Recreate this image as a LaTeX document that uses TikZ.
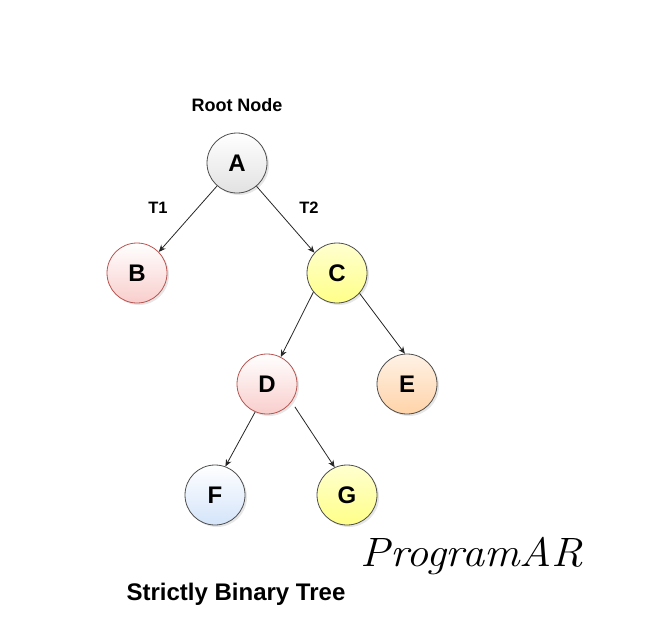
\documentclass[tikz,border=0pt]{standalone}
\usepackage{fontspec}
\setmainfont{Liberation Sans}
\usetikzlibrary{arrows.meta,shadows}
\definecolor{bdgray}{HTML}{4D4D4D}
\definecolor{bdred}{HTML}{B85450}
\definecolor{aBot}{HTML}{E2E2E2}
\definecolor{bBot}{HTML}{F8CECC}
\definecolor{cTop}{HTML}{FFFFD0}
\definecolor{cBot}{HTML}{FFFF88}
\definecolor{eTop}{HTML}{FFF2E6}
\definecolor{eBot}{HTML}{FFD3A8}
\definecolor{fBot}{HTML}{D4E4FA}
\tikzset{
  tnode/.style={circle, minimum size=60pt, inner sep=0pt, line width=0.8pt,
    font=\fontsize{24}{24}\selectfont\bfseries,
    drop shadow={opacity=0.2, shadow xshift=2pt, shadow yshift=-2pt}},
  gA/.style={tnode, draw=bdgray, top color=white, bottom color=aBot},
  gB/.style={tnode, draw=bdred, top color=white, bottom color=bBot},
  gC/.style={tnode, draw=bdgray, top color=cTop, bottom color=cBot},
  gE/.style={tnode, draw=bdgray, top color=eTop, bottom color=eBot},
  gF/.style={tnode, draw=bdgray, top color=white, bottom color=fBot},
  edge/.style={-{Stealth[length=7pt,width=6pt]}, line width=0.8pt, black!85},
  lbl/.style={font=\fontsize{16.5}{16.5}\selectfont\bfseries, inner sep=0pt},
}
\begin{document}
\begin{tikzpicture}[x=1pt,y=-1pt]
\useasboundingbox (0,0) rectangle (656,638);
\node[gA] (A) at (237,163) {A};
\node[gB] (B) at (137,273) {B};
\node[gC] (C) at (337,273) {C};
\node[gB] (D) at (267,384) {D};
\node[gE] (E) at (407,384) {E};
\node[gF] (F) at (215,495) {F};
\node[gC] (G) at (347,495) {G};
\draw[edge] (A.229) -- (B.44);
\draw[edge] (A.310) -- (C.138);
\draw[edge] (C.219) -- (D.63);
\draw[edge] (C.318) -- (E.94);
\draw[edge] (D.247) -- (F.70);
\draw[edge, shorten <=6pt] (D.324) -- (G.114);
\node[lbl, font=\fontsize{18}{18}\selectfont\bfseries] (root) at (237,105) {Root Node};
\node[lbl] (t1) at (158,208) {T1};
\node[lbl] (t2) at (309,208) {T2};
\node[lbl, font=\fontsize{24}{24}\selectfont\bfseries] (title) at (236,594) {Strictly Binary Tree};
\node[inner sep=0pt, xscale=1.08, font=\fontspec{Latin Modern Roman}\fontsize{41}{41}\selectfont\itshape] (brand) at (472,556) {ProgramAR};
\end{tikzpicture}
\end{document}
